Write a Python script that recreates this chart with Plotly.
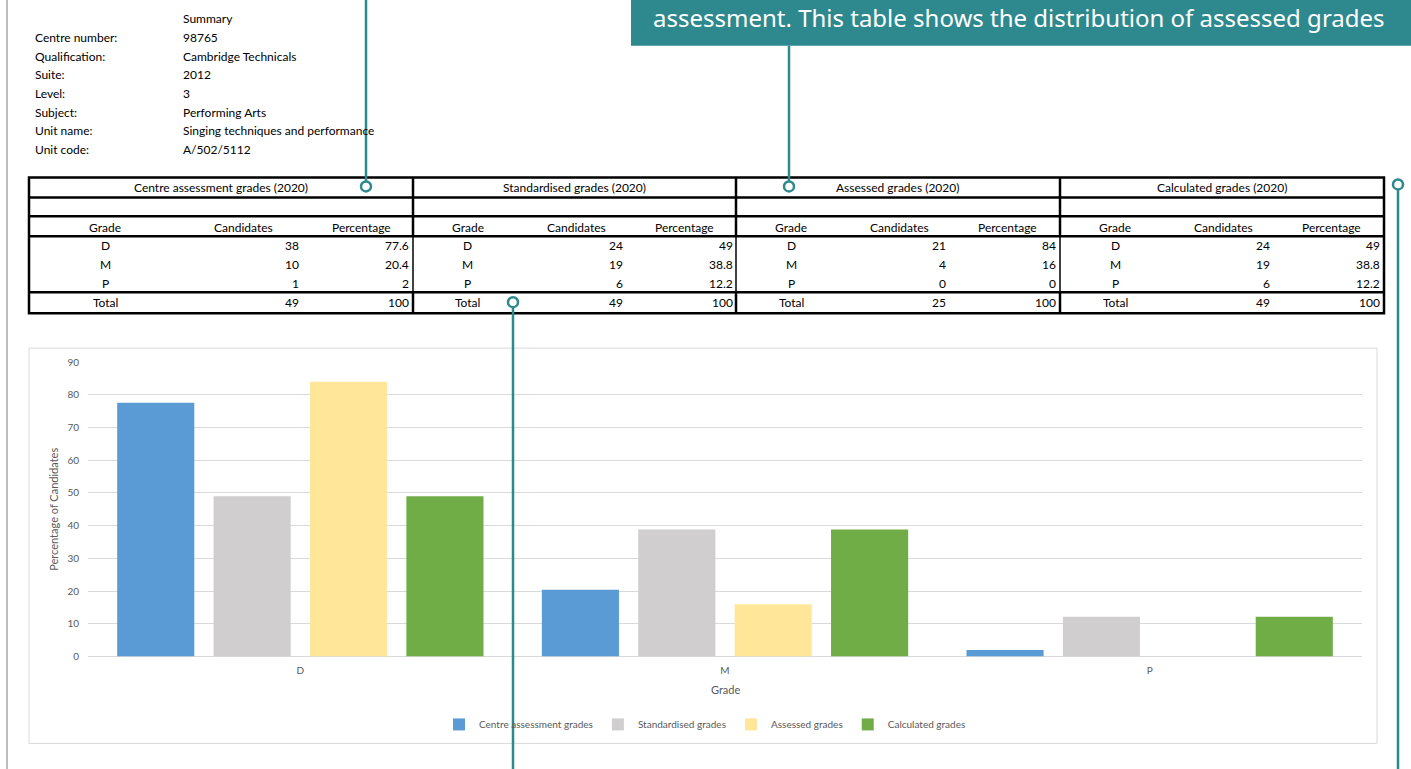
import plotly.graph_objects as go

# ---------------- data ----------------
grades = ["D", "M", "P"]
series_names = ["Centre assessment grades", "Standardised grades", "Assessed grades", "Calculated grades"]
block_titles = ["Centre assessment grades (2020)", "Standardised grades (2020)",
                "Assessed grades (2020)", "Calculated grades (2020)"]
centre_cand = [38, 10, 1]
centre_pct = [77.6, 20.4, 2]
std_cand = [24, 19, 6]
std_pct = [49, 38.8, 12.2]
assessed_cand = [21, 4, 0]
assessed_pct = [84, 16, 0]
calc_cand = [24, 19, 6]
calc_pct = [49, 38.8, 12.2]
total_cand = [49, 49, 25, 49]
total_pct = [100, 100, 100, 100]
y_ticks = [0, 10, 20, 30, 40, 50, 60, 70, 80, 90]

summary_labels = ["", "Centre number:", "Qualification:", "Suite:", "Level:", "Subject:", "Unit name:", "Unit code:"]
summary_values = ["Summary", "98765", "Cambridge Technicals", "2012", "3", "Performing Arts",
                  "Singing techniques and performance", "A/502/5112"]
callout_text = "assessment. This table shows the distribution of assessed grades"

all_cand = [centre_cand, std_cand, assessed_cand, calc_cand]
all_pct = [centre_pct, std_pct, assessed_pct, calc_pct]

# ---------------- styles ----------------
colors = ["#5B9BD5", "#D0CECE", "#FFE699", "#70AD47"]
TEAL = "#2E898E"
GREY_TXT = "#595959"
GRID = "#D9D9D9"
FONT = "Lato"

W, H = 1411, 769
# vertical compensation for the capture's slight vertical squeeze
VS, VO = 0.9862, 5.25
def px(x): return x / W
def py(y): return 1 - ((y - VO) / VS) / H

fig = go.Figure()
for name, vals, c in zip(series_names, all_pct, colors):
    fig.add_trace(go.Bar(x=grades, y=vals, name=name, marker=dict(color=c, line=dict(width=0))))

shapes = []
annotations = []

def line(x0, y0, x1, y1, color="black", width=2.5, layer="above"):
    shapes.append(dict(type="line", xref="paper", yref="paper", x0=px(x0), x1=px(x1),
                       y0=py(y0), y1=py(y1), line=dict(color=color, width=width), layer=layer))

def text(x, y, s, anchor="left", size=12, color="black", family=FONT, angle=0):
    annotations.append(dict(xref="paper", yref="paper", x=px(x), y=py(y), text=s, showarrow=False,
                            xanchor=anchor, yanchor="middle", textangle=angle,
                            font=dict(size=size, color=color, family=family)))

# page border at left
line(7, -10, 7, 780, color="#A6A6A6", width=1.5)

# summary block
rows_y = [18, 37, 56, 74, 93, 112, 130, 149]
for lab, val, yy in zip(summary_labels, summary_values, rows_y):
    if lab:
        text(33, yy, lab)
    text(181, yy, val)

# chart box
shapes.append(dict(type="rect", xref="paper", yref="paper", x0=px(29), x1=px(1377), y0=py(744), y1=py(348),
                   line=dict(color=GRID, width=1), fillcolor="rgba(0,0,0,0)", layer="below"))

# table grid
bx = [29, 413, 736, 1060, 1384]
top, bot = 177, 313
for yy in [197, 216, 236, 292]:
    line(bx[0], yy, bx[-1], yy, width=2.5)
for xx in bx[1:-1]:
    line(xx, top, xx, 236, width=2.5)
    line(xx, 236, xx, 292, width=1.5)
    line(xx, 292, xx, bot, width=2.5)
shapes.append(dict(type="rect", xref="paper", yref="paper", x0=px(bx[0]), x1=px(bx[-1]), y0=py(bot), y1=py(top),
                   line=dict(color="black", width=2.5), fillcolor="rgba(0,0,0,0)"))

def fmt(v):
    return f"{v:g}"

row_y = [245, 264, 283]
for b in range(4):
    o = bx[b]
    if b == 0:
        gc, cr, pr, ch, ph = 105, 301, 411, 243, 361
    else:
        gc, cr, pr, ch, ph = o + 55, o + 212, o + 322, o + 163, o + 271
    text((bx[b] + bx[b + 1]) / 2, 187, block_titles[b], anchor="center")
    text(gc, 227, "Grade", anchor="center")
    text(ch, 227, "Candidates", anchor="center")
    text(ph, 227, "Percentage", anchor="center")
    for g, c, p, yy in zip(grades, all_cand[b], all_pct[b], row_y):
        text(gc, yy, g, anchor="center")
        text(cr, yy, fmt(c), anchor="right")
        text(pr, yy, fmt(p), anchor="right")
    text(gc, 302, "Total", anchor="center")
    text(cr, 302, fmt(total_cand[b]), anchor="right")
    text(pr, 302, fmt(total_pct[b]), anchor="right")

# callout box
shapes.append(dict(type="rect", xref="paper", yref="paper", x0=px(631), x1=px(1420), y0=py(45), y1=py(-10),
                   line=dict(width=0), fillcolor=TEAL))
text(651, 16.5, callout_text, size=24, color="white", family="Noto Sans")

# teal leader lines with circles
line(366, -10, 366, 186, color=TEAL, width=2.5)
line(789, 45, 789, 186, color=TEAL, width=2.5)
line(513, 302, 513, 780, color=TEAL, width=2.5)
line(1398, 184, 1398, 780, color=TEAL, width=2.5)
for cx, cy in [(366, 186), (789, 186), (513, 302), (1398, 184)]:
    r = 5
    shapes.append(dict(type="circle", xref="paper", yref="paper", x0=px(cx - r), x1=px(cx + r),
                       y0=py(cy + r), y1=py(cy - r), line=dict(color=TEAL, width=2.5), fillcolor="white"))

# axis titles
text(54, 510, "Percentage of Candidates", anchor="center", size=11, color=GREY_TXT, angle=-90)
text(725, 690, "Grade", anchor="center", size=11, color=GREY_TXT)

fig.update_layout(
    width=W, height=H, autosize=False,
    margin=dict(l=0, r=0, t=0, b=0, pad=0),
    paper_bgcolor="white", plot_bgcolor="rgba(0,0,0,0)",
    barmode="group", bargap=0.092, bargroupgap=0.2,
    font=dict(family=FONT, color=GREY_TXT, size=10),
    shapes=shapes, annotations=annotations,
    showlegend=True,
    legend=dict(orientation="h", x=px(705), xanchor="center", y=py(725), yanchor="middle",
                font=dict(size=10, color=GREY_TXT, family=FONT), itemwidth=30,
                bgcolor="rgba(0,0,0,0)", traceorder="normal"),
    xaxis=dict(domain=[px(88), px(1362)], type="category", range=[-0.5, 2.5], showgrid=False,
               showline=False, zeroline=False, ticks="", tickfont=dict(size=10, color=GREY_TXT),
               ticklabelstandoff=6, fixedrange=True),
    yaxis=dict(domain=[py(657), py(362)], range=[0, 90], tickvals=y_ticks, showgrid=True,
               gridcolor=GRID, gridwidth=1, zeroline=True, zerolinecolor=GRID, zerolinewidth=1,
               showline=False, ticks="", tickfont=dict(size=10, color=GREY_TXT),
               ticklabelstandoff=8, fixedrange=True),
)

post = ("var gd=document.getElementById('{plot_id}');"
        "gd.style.position='fixed';gd.style.top='0px';gd.style.left='0px';"
        "document.documentElement.style.margin='0';document.body.style.margin='0';"
        "document.documentElement.style.overflow='hidden';document.body.style.overflow='hidden';")
fig.write_html("out.html", config={"displayModeBar": False}, post_script=post)
